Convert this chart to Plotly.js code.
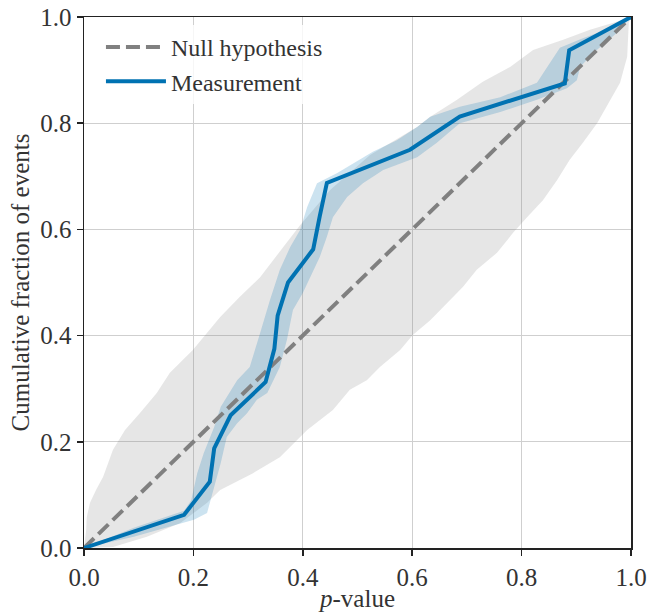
<!DOCTYPE html>
<html>
<head>
<meta charset="utf-8">
<script src="https://cdn.plot.ly/plotly-3.0.1.min.js"></script>
<style>html,body{margin:0;padding:0;background:#fff;}#chart{width:659px;height:612px;}</style>
</head>
<body>
<div id="chart"></div>
<script>
// Null hypothesis diagonal
const nullX = [0, 1];
const nullY = [0, 1];

// Measured cumulative fraction (16 events)
const measX = [0, 0.183, 0.230, 0.238, 0.268, 0.332, 0.348, 0.354, 0.373, 0.419, 0.431, 0.444, 0.596, 0.687, 0.879, 0.887, 1.0];
const measY = [0, 0.0625, 0.125, 0.1875, 0.25, 0.3125, 0.375, 0.4375, 0.5, 0.5625, 0.625, 0.6875, 0.75, 0.8125, 0.875, 0.9375, 1.0];

// Measurement uncertainty band (upper-left edge and lower-right edge)
const measBandUpperX = [0, 0.091, 0.183, 0.196, 0.207, 0.219, 0.238, 0.250, 0.280, 0.303, 0.322, 0.340, 0.358, 0.377, 0.395, 0.408, 0.426, 0.463, 0.528, 0.572, 0.609, 0.633, 0.687, 0.761, 0.828, 0.852, 0.870, 0.912, 0.962, 1.0];
const measBandUpperY = [0, 0.038, 0.070, 0.090, 0.141, 0.179, 0.228, 0.266, 0.316, 0.341, 0.405, 0.467, 0.524, 0.567, 0.599, 0.642, 0.687, 0.706, 0.746, 0.768, 0.793, 0.812, 0.831, 0.849, 0.876, 0.913, 0.942, 0.960, 0.979, 1.0];
const measBandLowerX = [0, 0.091, 0.201, 0.225, 0.232, 0.238, 0.250, 0.261, 0.280, 0.298, 0.316, 0.335, 0.358, 0.371, 0.382, 0.400, 0.413, 0.431, 0.444, 0.455, 0.481, 0.510, 0.547, 0.609, 0.645, 0.687, 0.761, 0.828, 0.883, 0.901, 0.907, 0.931, 0.974, 1.0];
const measBandLowerY = [0, 0.021, 0.053, 0.066, 0.096, 0.115, 0.160, 0.209, 0.235, 0.254, 0.279, 0.292, 0.341, 0.392, 0.448, 0.480, 0.510, 0.548, 0.586, 0.623, 0.661, 0.687, 0.712, 0.736, 0.763, 0.800, 0.821, 0.844, 0.866, 0.881, 0.906, 0.932, 0.970, 1.0];

// Null hypothesis band (upper-left edge and lower-right edge)
const nullBandUpperX = [0, 0.004, 0.005, 0.011, 0.022, 0.035, 0.053, 0.075, 0.102, 0.133, 0.157, 0.199, 0.249, 0.285, 0.322, 0.364, 0.395, 0.450, 0.523, 0.609, 0.633, 0.682, 0.729, 0.779, 0.821, 0.876, 0.925, 0.974, 1.0];
const nullBandUpperY = [0, 0.034, 0.058, 0.085, 0.109, 0.134, 0.185, 0.222, 0.254, 0.292, 0.330, 0.373, 0.435, 0.473, 0.510, 0.567, 0.608, 0.674, 0.740, 0.793, 0.812, 0.844, 0.878, 0.906, 0.938, 0.957, 0.976, 0.991, 1.0];
const nullBandLowerX = [0, 0.053, 0.115, 0.176, 0.225, 0.249, 0.309, 0.358, 0.408, 0.455, 0.486, 0.517, 0.541, 0.578, 0.601, 0.633, 0.664, 0.693, 0.718, 0.755, 0.784, 0.810, 0.839, 0.865, 0.888, 0.912, 0.938, 0.956, 0.980, 0.993, 0.996, 1.0];
const nullBandLowerY = [0, 0.002, 0.021, 0.047, 0.085, 0.109, 0.141, 0.171, 0.222, 0.260, 0.298, 0.316, 0.341, 0.373, 0.401, 0.429, 0.461, 0.492, 0.524, 0.556, 0.593, 0.623, 0.655, 0.693, 0.731, 0.763, 0.800, 0.831, 0.876, 0.925, 0.989, 1.0];

const tickVals = [0, 0.2, 0.4, 0.6, 0.8, 1.0];
const tickText = ['0.0', '0.2', '0.4', '0.6', '0.8', '1.0'];

function closed(ux, uy, lx, ly) {
  return {
    x: ux.concat(lx.slice().reverse()),
    y: uy.concat(ly.slice().reverse())
  };
}
const nb = closed(nullBandUpperX, nullBandUpperY, nullBandLowerX, nullBandLowerY);
const mb = closed(measBandUpperX, measBandUpperY, measBandLowerX, measBandLowerY);

const FONT = 'Liberation Serif';
const TXT = '#333333';
const traces = [
  {x: nb.x, y: nb.y, mode: 'lines', fill: 'toself', fillcolor: 'rgba(128,128,128,0.2)', line: {width: 0}, showlegend: false, hoverinfo: 'skip'},
  {x: mb.x, y: mb.y, mode: 'lines', fill: 'toself', fillcolor: 'rgba(0,114,178,0.2)', line: {width: 0}, showlegend: false, hoverinfo: 'skip'},
  {x: nullX, y: nullY, mode: 'lines', name: 'Null hypothesis', line: {color: '#808080', width: 4, dash: '14px,6px'}},
  {x: measX, y: measY, mode: 'lines', name: 'Measurement', line: {color: '#0072B2', width: 4}}
];

const axisCommon = {
  range: [0, 1],
  tickvals: tickVals,
  ticktext: tickText,
  ticks: 'outside',
  ticklen: 6,
  tickwidth: 1.5,
  tickcolor: '#222',
  showline: true,
  linecolor: '#222',
  linewidth: 1.5,
  mirror: true,
  showgrid: true,
  gridcolor: '#cfcfcf',
  gridwidth: 1,
  zeroline: false,
  tickfont: {family: FONT, size: 25, color: TXT}
};

const layout = {
  width: 659,
  height: 612,
  margin: {l: 84, r: 28, t: 17, b: 64},
  paper_bgcolor: '#fff',
  plot_bgcolor: '#fff',
  font: {family: FONT, size: 25, color: TXT},
  showlegend: true,
  legend: {
    x: 0.031, y: 0.985, xanchor: 'left', yanchor: 'top',
    bgcolor: 'rgba(255,255,255,0.8)',
    borderwidth: 0,
    font: {family: FONT, size: 24, color: TXT},
    itemwidth: 60,
    tracegroupgap: 0
  },
  xaxis: Object.assign({}, axisCommon, {
    title: {text: '<i>p</i>-value', font: {family: FONT, size: 25, color: TXT}, standoff: 2}
  }),
  yaxis: Object.assign({}, axisCommon, {
    title: {text: 'Cumulative fraction of events', font: {family: FONT, size: 25, color: TXT}, standoff: 3}
  })
};

Plotly.newPlot('chart', traces, layout, {displayModeBar: false, staticPlot: true});
</script>
</body>
</html>
